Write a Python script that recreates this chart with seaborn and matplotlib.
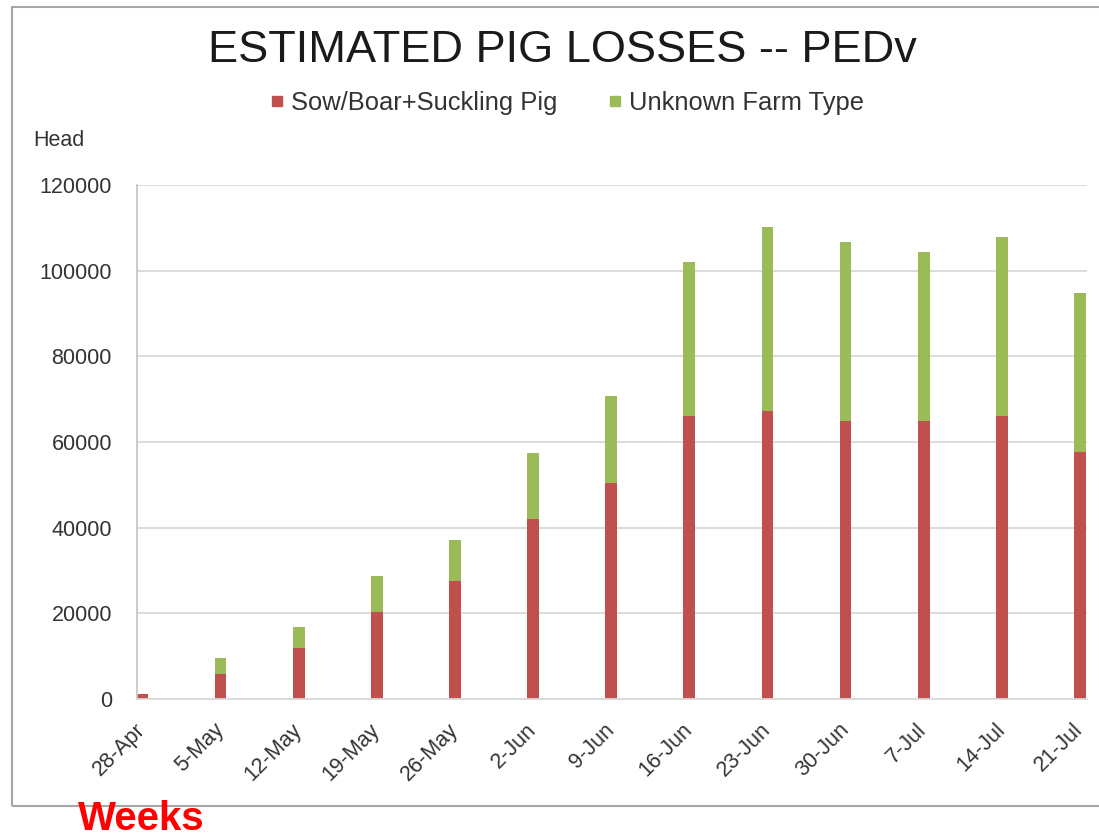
import matplotlib
matplotlib.use("Agg")
import matplotlib.pyplot as plt
import seaborn as sns
import pandas as pd
from matplotlib.lines import Line2D
from matplotlib.patches import Rectangle

# data (head of pigs lost per week)
weeks = ["28-Apr", "5-May", "12-May", "19-May", "26-May", "2-Jun", "9-Jun",
         "16-Jun", "23-Jun", "30-Jun", "7-Jul", "14-Jul", "21-Jul"]
sow_boar = [1100, 5800, 11800, 20400, 27500, 42000, 50400,
            66100, 67300, 64900, 64900, 66100, 57700]
unknown = [0, 3700, 4900, 8300, 9600, 15500, 20300,
           35900, 43000, 41800, 39500, 41800, 37200]

RED = "#c0504d"
GREEN = "#9bbb59"

df = pd.DataFrame({"Week": weeks, "Sow": sow_boar, "Unknown": unknown})
df["Total"] = df["Sow"] + df["Unknown"]

sns.set_theme(style="white")
plt.rcParams["font.family"] = ["Liberation Sans", "DejaVu Sans"]

fig = plt.figure(figsize=(10.99, 8.4), dpi=100)
ax = fig.add_axes([137 / 1099, 1 - 699 / 840, (1087 - 137) / 1099, (699 - 185) / 840])

# stacked bars: total in green, sow/boar drawn over it in red
sns.barplot(data=df, x="Week", y="Total", color=GREEN, saturation=1, width=0.15,
            linewidth=0, ax=ax)
sns.barplot(data=df, x="Week", y="Sow", color=RED, saturation=1, width=0.15,
            linewidth=0, ax=ax)

ax.set_xlim(-0.07, 12.09)
ax.set_ylim(0, 120000)
ax.set_yticks(range(0, 120001, 20000))
ax.yaxis.grid(True, color="#d9d9d9", lw=1.3)
ax.set_axisbelow(True)
ax.set_xlabel("")
ax.set_ylabel("")
for s in ["top", "right"]:
    ax.spines[s].set_visible(False)
ax.spines["left"].set_color("#c8c8c8")
ax.spines["bottom"].set_color("#d9d9d9")
ax.spines["left"].set_linewidth(1.3)
ax.spines["bottom"].set_linewidth(1.3)

ax.tick_params(axis="y", length=0, labelsize=15.5, colors="#333333", pad=18)
ax.tick_params(axis="x", length=0, labelsize=15.5, colors="#333333", pad=20)
for lab in ax.get_xticklabels():
    lab.set_rotation(45)
    lab.set_ha("right")
    lab.set_va("center")
    lab.set_rotation_mode("anchor")

fig.text(0.512, 1 - 51 / 840, "ESTIMATED PIG LOSSES -- PEDv", ha="center", va="center",
         fontsize=32.5, color="#1a1a1a")

handles = [Line2D([], [], marker="s", ls="", color=RED, markersize=7.5),
           Line2D([], [], marker="s", ls="", color=GREEN, markersize=7.5)]
fig.legend(handles, ["Sow/Boar+Suckling Pig", "Unknown Farm Type"], loc="center",
           bbox_to_anchor=(0.513, 1 - 103 / 840), ncol=2, frameon=False, fontsize=18.4,
           handlelength=1.0, handletextpad=0.05, columnspacing=1.75, labelcolor="#333333")

fig.text(33 / 1099, 1 - 140 / 840, "Head", ha="left", va="center", fontsize=15.5, color="#333333")

fig.text(78 / 1099, 1 - 838 / 840, "Weeks", ha="left", va="bottom", fontsize=29,
         fontweight="bold", color="#ff0000")

fig.add_artist(Rectangle((12 / 1099, 1 - 806 / 840), 1.2, (806 - 7) / 840,
                         transform=fig.transFigure, fill=False, ec="#a6a6a6", lw=1.5))

fig.savefig("out.png", dpi=100)
